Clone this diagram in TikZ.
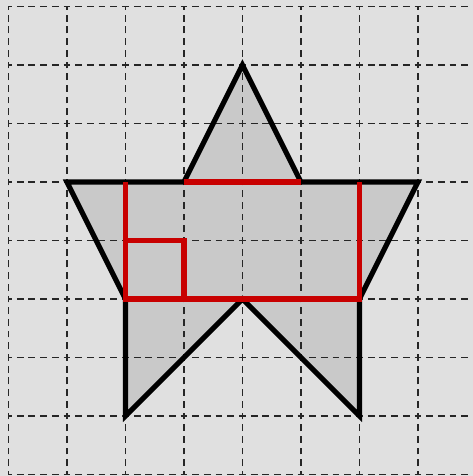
\documentclass[tikz,border=0pt]{standalone}
\usepackage{tikz}
\definecolor{paper}{RGB}{224,224,224}
\definecolor{stargrey}{RGB}{201,201,201}
\definecolor{cutred}{RGB}{200,0,0}

\begin{document}
\begin{tikzpicture}[
    gridline/.style={black!85, line width=0.9pt, dash pattern=on 3.3pt off 2.3906pt, dash phase=1.65pt},
    outline/.style={line width=2.5pt, line join=miter, draw=black},
    cutline/.style={cutred, line width=2.7pt, line cap=butt}
]
    % page and paper
    \fill[paper] (-0.145,-0.026) rectangle (7.94,8.111);
    \useasboundingbox (-0.145,-0.026) rectangle (7.94,8.111);
    \clip (-0.145,-0.026) rectangle (7.94,8.111);
    % the star, filled under the grid
    \fill[stargrey] (4,7) -- (5,5) -- (7,5) -- (6,3) -- (6,1) -- (4,3)
        -- (2,1) -- (2,3) -- (1,5) -- (3,5) -- cycle;
    % squared grid
    \draw[gridline] (0,0) grid (8.5,8);
    % star outline
    \draw[outline] (4,7) -- (5,5) -- (7,5) -- (6,3) -- (6,1) -- (4,3)
        -- (2,1) -- (2,3) -- (1,5) -- (3,5) -- cycle;
    % red cuts
    \draw[cutline] (2,5) -- (2,3) -- (6,3) -- (6,5);
    \draw[cutline] (3,5) -- (5,5);
    \draw[cutline] (2,4) -- (3,4) -- (3,3);
\end{tikzpicture}
\end{document}
